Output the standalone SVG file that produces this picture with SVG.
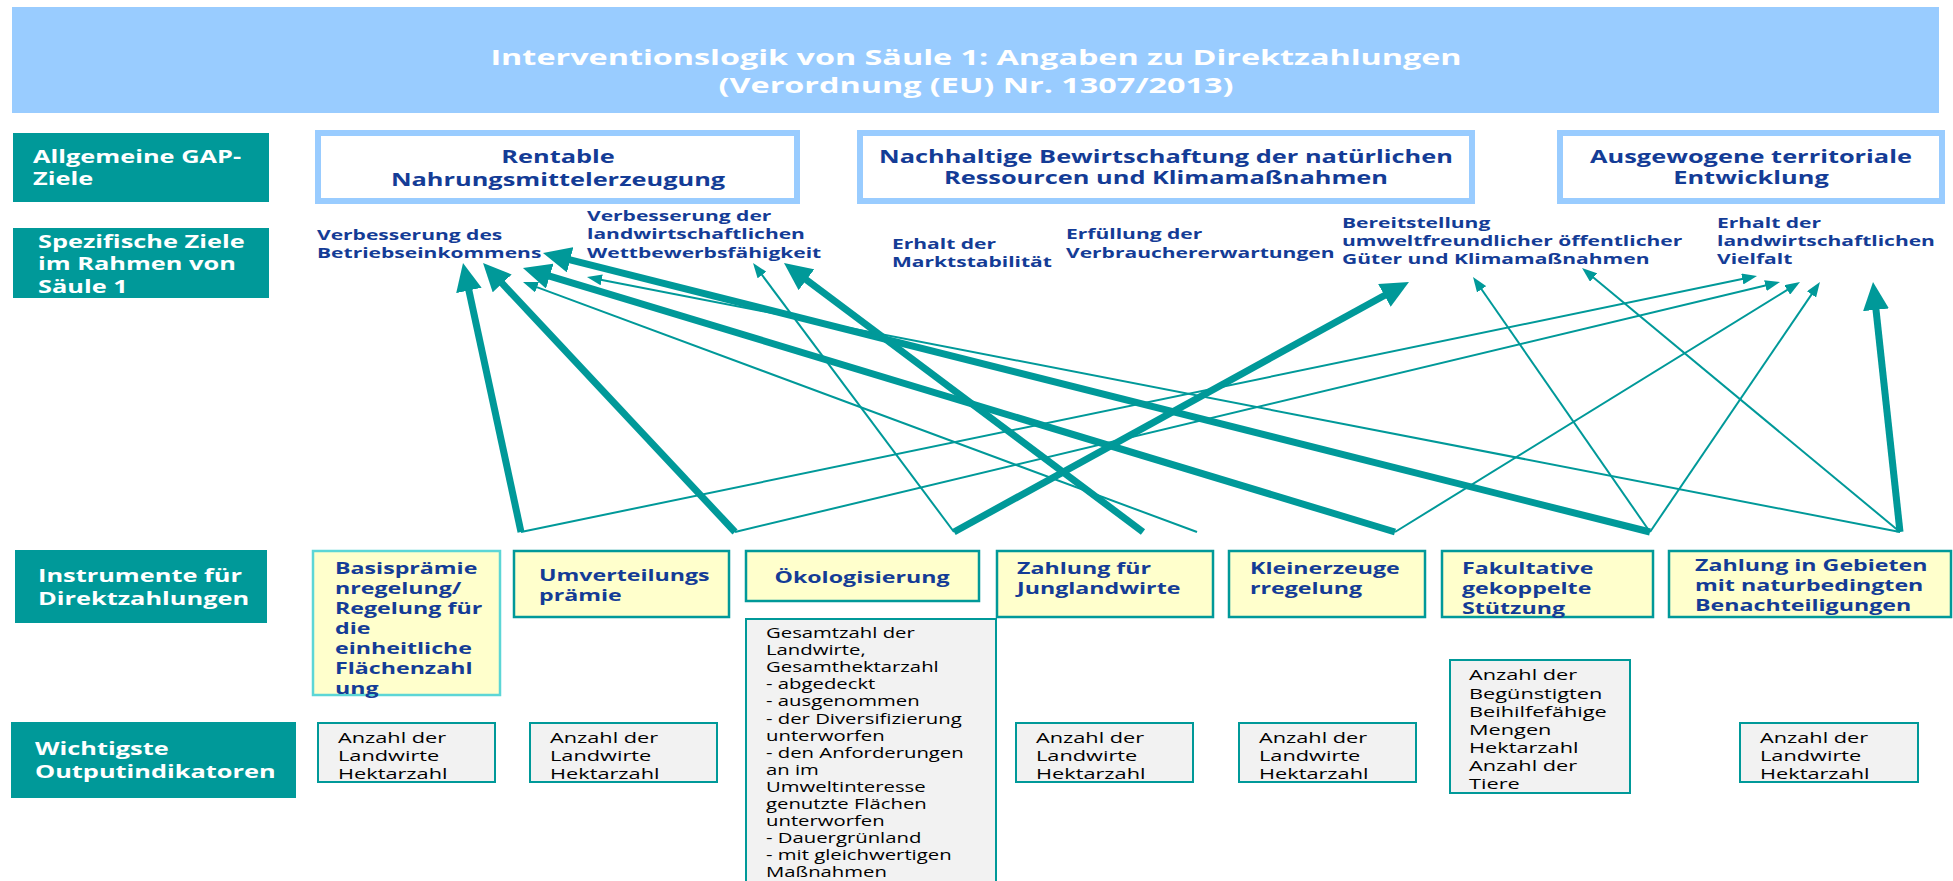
<svg xmlns="http://www.w3.org/2000/svg" width="1953" height="881" viewBox="0 0 1953 881">
<style>
.t{font-family:"Open Sans","Liberation Sans",sans-serif}
.title{font-weight:700;font-size:21px;fill:#ffffff;text-anchor:middle}
.lbl{font-weight:700;font-size:17.5px;fill:#ffffff}
.gap{font-weight:700;font-size:17.5px;fill:#143C96;text-anchor:middle}
.spec{font-weight:700;font-size:14.5px;fill:#143C96}
.ins{font-weight:700;font-size:16px;fill:#143C96}
.out{font-size:15px;fill:#000000}
.out14{font-size:14px;fill:#000000}
.lblbox{fill:#009999}
.gapbox{fill:#ffffff;stroke:#99CCFF;stroke-width:6}
.insbox{fill:#FFFFCC;stroke:#009999;stroke-width:2.5}
.outbox{fill:#F2F2F2;stroke:#009999;stroke-width:2}
.thin{stroke:#009999;stroke-width:2;fill:none;marker-end:url(#ah1)}
.thick{stroke:#009999;stroke-width:7;fill:none;marker-end:url(#ah2)}
</style>
<defs>
<marker id="ah1" markerUnits="userSpaceOnUse" markerWidth="15" markerHeight="11" refX="1" refY="5.5" orient="auto"><path d="M0,0 L15,5.5 L0,11 z" fill="#009999"/></marker>
<marker id="ah2" markerUnits="userSpaceOnUse" markerWidth="28" markerHeight="26" refX="1" refY="13" orient="auto"><path d="M0,0 L28,13 L0,26 z" fill="#009999"/></marker>
</defs>
<rect width="1953" height="881" fill="#ffffff"/>

<g id="title">
<rect x="12" y="7" width="1927" height="106" fill="#99CCFF"/>
<text class="t title" transform="translate(976,0) scale(1.54,1)"><tspan x="0" y="65.5">Interventionslogik von Säule 1: Angaben zu Direktzahlungen</tspan><tspan x="0" y="93.5">(Verordnung (EU) Nr. 1307/2013)</tspan></text>
</g>

<g id="label-gap">
<rect class="lblbox" x="13" y="133" width="256" height="69"/>
<text class="t lbl" transform="translate(33,0) scale(1.45,1)"><tspan x="0" y="163">Allgemeine GAP-</tspan><tspan x="0" y="185">Ziele</tspan></text>
</g>
<g id="label-spez">
<rect class="lblbox" x="13" y="228" width="256" height="70"/>
<text class="t lbl" transform="translate(38,0) scale(1.45,1)"><tspan x="0" y="248">Spezifische Ziele</tspan><tspan x="0" y="270">im Rahmen von</tspan><tspan x="0" y="293">Säule 1</tspan></text>
</g>
<g id="label-instr">
<rect class="lblbox" x="15" y="550" width="252" height="73"/>
<text class="t lbl" transform="translate(38,0) scale(1.45,1)"><tspan x="0" y="582">Instrumente für</tspan><tspan x="0" y="605">Direktzahlungen</tspan></text>
</g>
<g id="label-output">
<rect class="lblbox" x="11" y="722" width="285" height="76"/>
<text class="t lbl" transform="translate(35,0) scale(1.45,1)"><tspan x="0" y="755">Wichtigste</tspan><tspan x="0" y="778">Outputindikatoren</tspan></text>
</g>

<g id="gap-rentable">
<rect class="gapbox" x="318" y="133" width="479" height="68"/>
<text class="t gap" transform="translate(558,0) scale(1.45,1)"><tspan x="0" y="163">Rentable</tspan><tspan x="0" y="186">Nahrungsmittelerzeugung</tspan></text>
</g>
<g id="gap-nachhaltig">
<rect class="gapbox" x="860" y="133" width="612" height="68"/>
<text class="t gap" transform="translate(1166,0) scale(1.45,1)"><tspan x="0" y="163">Nachhaltige Bewirtschaftung der natürlichen</tspan><tspan x="0" y="184">Ressourcen und Klimamaßnahmen</tspan></text>
</g>
<g id="gap-territorial">
<rect class="gapbox" x="1560" y="133" width="382" height="68"/>
<text class="t gap" transform="translate(1751,0) scale(1.45,1)"><tspan x="0" y="163">Ausgewogene territoriale</tspan><tspan x="0" y="184">Entwicklung</tspan></text>
</g>

<g id="spez-einkommen">
<text class="t spec" transform="translate(317,0) scale(1.45,1)"><tspan x="0" y="240">Verbesserung des</tspan><tspan x="0" y="258">Betriebseinkommens</tspan></text>
</g>
<g id="spez-wettbewerb">
<text class="t spec" transform="translate(587,0) scale(1.45,1)"><tspan x="0" y="221">Verbesserung der</tspan><tspan x="0" y="239">landwirtschaftlichen</tspan><tspan x="0" y="258">Wettbewerbsfähigkeit</tspan></text>
</g>
<g id="spez-markt">
<text class="t spec" transform="translate(892,0) scale(1.45,1)"><tspan x="0" y="249">Erhalt der</tspan><tspan x="0" y="267">Marktstabilität</tspan></text>
</g>
<g id="spez-verbraucher">
<text class="t spec" transform="translate(1066,0) scale(1.45,1)"><tspan x="0" y="239">Erfüllung der</tspan><tspan x="0" y="258">Verbrauchererwartungen</tspan></text>
</g>
<g id="spez-umwelt">
<text class="t spec" transform="translate(1342,0) scale(1.45,1)"><tspan x="0" y="228">Bereitstellung</tspan><tspan x="0" y="246">umweltfreundlicher öffentlicher</tspan><tspan x="0" y="264">Güter und Klimamaßnahmen</tspan></text>
</g>
<g id="spez-vielfalt">
<text class="t spec" transform="translate(1717,0) scale(1.45,1)"><tspan x="0" y="228">Erhalt der</tspan><tspan x="0" y="246">landwirtschaftlichen</tspan><tspan x="0" y="264">Vielfalt</tspan></text>
</g>

<g id="connectors">
<line class="thick" x1="521" y1="532" x2="468.7" y2="289.4"/>
<line class="thick" x1="735" y1="532" x2="501.5" y2="282.7"/>
<line class="thick" x1="1395" y1="532" x2="548.8" y2="275.8"/>
<line class="thin" x1="1197" y1="532" x2="536.1" y2="286.9"/>
<line class="thick" x1="1650" y1="532" x2="569.2" y2="259.6"/>
<line class="thin" x1="1900" y1="532" x2="600.7" y2="279.7"/>
<line class="thin" x1="954" y1="532" x2="761.4" y2="274.2"/>
<line class="thick" x1="1143" y1="532" x2="805.6" y2="279.2"/>
<line class="thick" x1="954" y1="532" x2="1385.3" y2="295.0"/>
<line class="thin" x1="1650" y1="532" x2="1481.0" y2="288.5"/>
<line class="thin" x1="1900" y1="532" x2="1592.8" y2="276.9"/>
<line class="thin" x1="521" y1="532" x2="1743.3" y2="278.8"/>
<line class="thin" x1="735" y1="532" x2="1766.4" y2="285.3"/>
<line class="thin" x1="1395" y1="532" x2="1788.1" y2="289.4"/>
<line class="thin" x1="1650" y1="532" x2="1812.1" y2="293.6"/>
<line class="thick" x1="1900" y1="532" x2="1875.9" y2="308.8"/>
</g>

<g id="instr-basis">
<rect class="insbox" x="313" y="551" width="187" height="144" style="stroke:#5CD6D6"/>
<text class="t ins" transform="translate(335,0) scale(1.45,1)"><tspan x="0" y="574">Basisprämie</tspan><tspan x="0" y="594">nregelung/</tspan><tspan x="0" y="614">Regelung für</tspan><tspan x="0" y="634">die</tspan><tspan x="0" y="654">einheitliche</tspan><tspan x="0" y="674">Flächenzahl</tspan><tspan x="0" y="694">ung</tspan></text>
</g>
<g id="instr-umverteilung">
<rect class="insbox" x="514" y="551" width="215" height="66"/>
<text class="t ins" transform="translate(539,0) scale(1.45,1)"><tspan x="0" y="581">Umverteilungs</tspan><tspan x="0" y="601">prämie</tspan></text>
</g>
<g id="instr-oeko">
<rect class="insbox" x="746" y="551" width="233" height="50"/>
<text class="t ins" transform="translate(862,0) scale(1.45,1)" text-anchor="middle"><tspan x="0" y="583">Ökologisierung</tspan></text>
</g>
<g id="instr-jung">
<rect class="insbox" x="997" y="551" width="216" height="66"/>
<text class="t ins" transform="translate(1017,0) scale(1.45,1)"><tspan x="0" y="574">Zahlung für</tspan><tspan x="0" y="594">Junglandwirte</tspan></text>
</g>
<g id="instr-klein">
<rect class="insbox" x="1229" y="551" width="196" height="66"/>
<text class="t ins" transform="translate(1250,0) scale(1.45,1)"><tspan x="0" y="574">Kleinerzeuge</tspan><tspan x="0" y="594">rregelung</tspan></text>
</g>
<g id="instr-fakultativ">
<rect class="insbox" x="1442" y="551" width="211" height="66"/>
<text class="t ins" transform="translate(1462,0) scale(1.45,1)"><tspan x="0" y="574">Fakultative</tspan><tspan x="0" y="594">gekoppelte</tspan><tspan x="0" y="614">Stützung</tspan></text>
</g>
<g id="instr-gebiete">
<rect class="insbox" x="1669" y="551" width="282" height="66"/>
<text class="t ins" transform="translate(1695,0) scale(1.45,1)"><tspan x="0" y="571">Zahlung in Gebieten</tspan><tspan x="0" y="591">mit naturbedingten</tspan><tspan x="0" y="611">Benachteiligungen</tspan></text>
</g>

<g id="out-basis">
<rect class="outbox" x="318" y="723" width="177" height="59"/>
<text class="t out" transform="translate(338,0) scale(1.45,1)"><tspan x="0" y="743">Anzahl der</tspan><tspan x="0" y="761">Landwirte</tspan><tspan x="0" y="779">Hektarzahl</tspan></text>
</g>
<g id="out-umverteilung">
<rect class="outbox" x="530" y="723" width="187" height="59"/>
<text class="t out" transform="translate(550,0) scale(1.45,1)"><tspan x="0" y="743">Anzahl der</tspan><tspan x="0" y="761">Landwirte</tspan><tspan x="0" y="779">Hektarzahl</tspan></text>
</g>
<g id="out-oeko">
<rect class="outbox" x="746" y="619" width="250" height="275"/>
<text class="t out14" transform="translate(766,0) scale(1.45,1)"><tspan x="0" y="638">Gesamtzahl der</tspan><tspan x="0" y="655">Landwirte,</tspan><tspan x="0" y="672">Gesamthektarzahl</tspan><tspan x="0" y="689">- abgedeckt</tspan><tspan x="0" y="706">- ausgenommen</tspan><tspan x="0" y="724">- der Diversifizierung</tspan><tspan x="0" y="741">unterworfen</tspan><tspan x="0" y="758">- den Anforderungen</tspan><tspan x="0" y="775">an im</tspan><tspan x="0" y="792">Umweltinteresse</tspan><tspan x="0" y="809">genutzte Flächen</tspan><tspan x="0" y="826">unterworfen</tspan><tspan x="0" y="843">- Dauergrünland</tspan><tspan x="0" y="860">- mit gleichwertigen</tspan><tspan x="0" y="877">Maßnahmen</tspan></text>
</g>
<g id="out-jung">
<rect class="outbox" x="1016" y="723" width="177" height="59"/>
<text class="t out" transform="translate(1036,0) scale(1.45,1)"><tspan x="0" y="743">Anzahl der</tspan><tspan x="0" y="761">Landwirte</tspan><tspan x="0" y="779">Hektarzahl</tspan></text>
</g>
<g id="out-klein">
<rect class="outbox" x="1239" y="723" width="177" height="59"/>
<text class="t out" transform="translate(1259,0) scale(1.45,1)"><tspan x="0" y="743">Anzahl der</tspan><tspan x="0" y="761">Landwirte</tspan><tspan x="0" y="779">Hektarzahl</tspan></text>
</g>
<g id="out-fakultativ">
<rect class="outbox" x="1450" y="660" width="180" height="133"/>
<text class="t out" transform="translate(1469,0) scale(1.45,1)"><tspan x="0" y="680">Anzahl der</tspan><tspan x="0" y="699">Begünstigten</tspan><tspan x="0" y="717">Beihilfefähige</tspan><tspan x="0" y="735">Mengen</tspan><tspan x="0" y="753">Hektarzahl</tspan><tspan x="0" y="771">Anzahl der</tspan><tspan x="0" y="789">Tiere</tspan></text>
</g>
<g id="out-gebiete">
<rect class="outbox" x="1740" y="723" width="178" height="59"/>
<text class="t out" transform="translate(1760,0) scale(1.45,1)"><tspan x="0" y="743">Anzahl der</tspan><tspan x="0" y="761">Landwirte</tspan><tspan x="0" y="779">Hektarzahl</tspan></text>
</g>
</svg>
